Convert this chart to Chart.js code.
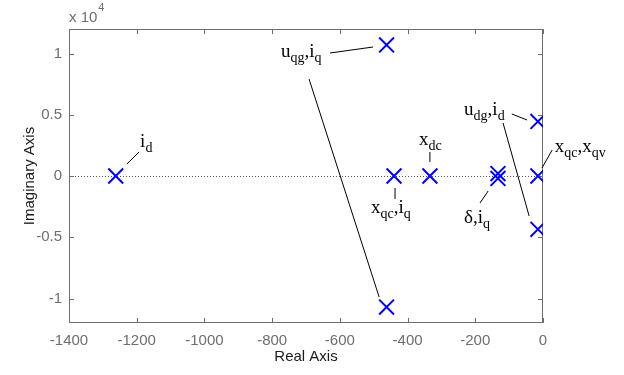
<!DOCTYPE html>
<html><head><meta charset="utf-8">
<script src="https://cdn.jsdelivr.net/npm/chart.js@4/dist/chart.umd.min.js"></script>
<style>html,body{margin:0;padding:0;background:#fff}#wrap{width:624px;height:375px}</style>
</head><body><div id="wrap"><canvas id="c" width="624" height="375"></canvas></div>
<script>
// ---- data ----
const poleReal = [-1262, -462, -462, -440, -334, -133, -133, -15, -15, -15];
const poleImag = [0, 10700, -10700, 0, 0, 200, -200, 4450, 0, -4350];
const xTicks = [-1400, -1200, -1000, -800, -600, -400, -200, 0];
const xTickLabels = ['-1400', '-1200', '-1000', '-800', '-600', '-400', '-200', '0'];
const yTicks = [-10000, -5000, 0, 5000, 10000];
const yTickLabels = ['-1', '-0.5', '0', '0.5', '1'];
const yExponent = ['x 10', '4'];
const xAxisTitle = 'Real Axis';
const yAxisTitle = 'Imaginary Axis';
// annotation labels: [text, isSubscript]
const annLabels = [
  [['i',0],['d',1]],
  [['u',0],['qg',1],[',',0],['i',0],['q',1]],
  [['x',0],['dc',1]],
  [['x',0],['qc',1],[',',0],['i',0],['q',1]],
  [['δ',0],[',',0],['i',0],['q',1]],
  [['u',0],['dg',1],[',',0],['i',0],['d',1]],
  [['x',0],['qc',1],[',',0],['x',0],['qv',1]]
];
// annotation text anchors (data units: left, baseline)
const annTextX = [-1190, -774, -366, -508, -233, -233, 35];
const annTextY = [2367, 9714, 2531, -3020, -3837, 4980, 1959];
// leader lines (data units)
const leadX1 = [-1229, -629, -691, -334, -437, -186, -92, -118, 27];
const leadY1 = [980, 10040, 7918, 1959, -980, -2204, 5061, 4326, 2122];
const leadX2 = [-1193, -502, -484, -334, -437, -162, -47, -41, -3];
const leadY2 = [1959, 10530, -9877, 1143, -1877, -1224, 4571, -3265, 653];

const AXIS_GREY = '#6e6e6e';
const SANS = '"Liberation Sans", Arial, sans-serif';
const SERIF = '"Liberation Serif", "Times New Roman", serif';

const decor = {
  id: 'decor',
  beforeDatasetsDraw(chart) {
    const {ctx, chartArea: a, scales: {x, y}} = chart;
    ctx.save();
    // zero reference line (dotted)
    const y0 = Math.round(y.getPixelForValue(0)) + 0.5;
    ctx.strokeStyle = '#555';
    ctx.lineWidth = 1;
    ctx.setLineDash([1, 2]);
    ctx.beginPath(); ctx.moveTo(a.left, y0); ctx.lineTo(a.right, y0); ctx.stroke();
    ctx.setLineDash([]);
    // box
    ctx.strokeStyle = AXIS_GREY;
    ctx.strokeRect(a.left + 0.5, a.top + 0.5, a.right - a.left - 1, a.bottom - a.top - 1);
    // inward ticks
    ctx.beginPath();
    xTicks.forEach(v => {
      const px = Math.round(x.getPixelForValue(v)) + 0.5;
      ctx.moveTo(px, a.bottom); ctx.lineTo(px, a.bottom - 5);
      ctx.moveTo(px, a.top); ctx.lineTo(px, a.top + 5);
    });
    yTicks.forEach(v => {
      const py = Math.round(y.getPixelForValue(v)) + 0.5;
      ctx.moveTo(a.left, py); ctx.lineTo(a.left + 5, py);
      ctx.moveTo(a.right, py); ctx.lineTo(a.right - 5, py);
    });
    ctx.stroke();
    ctx.restore();
  },
  afterDraw(chart) {
    const {ctx, chartArea: a, scales: {x, y}} = chart;
    ctx.save();
    // exponent label
    ctx.fillStyle = AXIS_GREY;
    ctx.font = '15px ' + SANS;
    ctx.textBaseline = 'alphabetic';
    ctx.textAlign = 'left';
    ctx.fillText(yExponent[0], a.left, a.top - 7);
    const w = ctx.measureText(yExponent[0]).width;
    ctx.font = '11px ' + SANS;
    ctx.fillText(yExponent[1], a.left + w + 1, a.top - 18);
    // leader lines
    ctx.strokeStyle = '#000';
    ctx.lineWidth = 1;
    ctx.beginPath();
    for (let i = 0; i < leadX1.length; i++) {
      ctx.moveTo(x.getPixelForValue(leadX1[i]), y.getPixelForValue(leadY1[i]));
      ctx.lineTo(x.getPixelForValue(leadX2[i]), y.getPixelForValue(leadY2[i]));
    }
    ctx.stroke();
    // labels
    ctx.fillStyle = '#000';
    annLabels.forEach((parts, i) => {
      let px = x.getPixelForValue(annTextX[i]);
      const py = y.getPixelForValue(annTextY[i]);
      parts.forEach(([t, sub]) => {
        ctx.font = (sub ? '14px ' : '19px ') + SERIF;
        ctx.fillText(t, px, py + (sub ? 5 : 0));
        px += ctx.measureText(t).width;
      });
    });
    ctx.restore();
  }
};

const points = poleReal.map((r, i) => ({x: r, y: poleImag[i]}));

new Chart(document.getElementById('c'), {
  type: 'scatter',
  data: {
    datasets: [{
      data: points,
      pointStyle: 'crossRot',
      radius: 10.5,
      hoverRadius: 10.5,
      borderColor: '#0000ff',
      backgroundColor: '#0000ff',
      borderWidth: 2,
      showLine: false
    }]
  },
  options: {
    responsive: false,
    devicePixelRatio: 1,
    animation: false,
    events: [],
    layout: {padding: {left: 0, right: 81, top: 29, bottom: 0}},
    plugins: {legend: {display: false}, tooltip: {enabled: false}},
    scales: {
      x: {
        type: 'linear', min: -1400, max: 0,
        afterFit(s) { s.height = 52; },
        afterBuildTicks(s) { s.ticks = xTicks.map(v => ({value: v})); },
        grid: {display: false, drawTicks: false},
        border: {display: false},
        ticks: {
          padding: 9, color: AXIS_GREY, font: {family: SANS, size: 15},
          maxRotation: 0, autoSkip: false,
          callback: (v) => xTickLabels[xTicks.indexOf(v)]
        },
        title: {display: true, text: xAxisTitle, color: '#1a1a1a', font: {family: SANS, size: 15}, padding: {top: 0, bottom: 9}}
      },
      y: {
        type: 'linear', min: -12000, max: 12000,
        afterFit(s) { s.width = 69; },
        afterBuildTicks(s) { s.ticks = yTicks.map(v => ({value: v})); },
        grid: {display: false, drawTicks: false},
        border: {display: false},
        ticks: {
          padding: 7, color: AXIS_GREY, font: {family: SANS, size: 15},
          autoSkip: false,
          callback: (v) => yTickLabels[yTicks.indexOf(v)]
        },
        title: {display: true, text: yAxisTitle, color: '#1a1a1a', font: {family: SANS, size: 15}, padding: {top: 21, bottom: 0}}
      }
    }
  },
  plugins: [decor]
});
</script>
</body></html>
